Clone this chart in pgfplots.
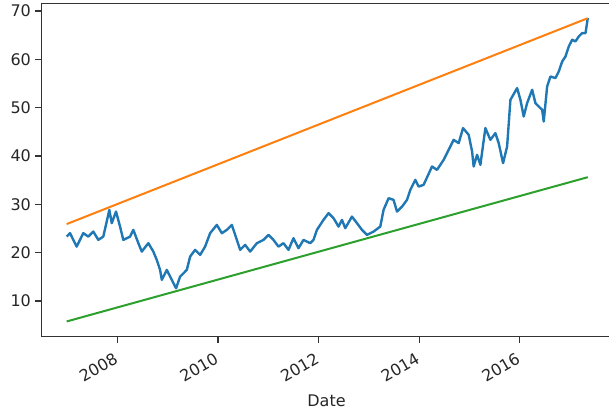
\documentclass[border=0pt]{standalone}
\usepackage{pgfplots}
\pgfplotsset{compat=1.18}
\usepackage{fontspec}
\setmainfont{DejaVu Sans}
\definecolor{mblue}{HTML}{1F77B4}
\definecolor{morange}{HTML}{FF7F0E}
\definecolor{mgreen}{HTML}{2CA02C}
\begin{document}
\begin{tikzpicture}
\path[use as bounding box] (-31.3pt,-56.5pt) rectangle (425.5pt,252.5pt);
\begin{axis}[
  scale only axis,
  width=427.2pt, height=250.05pt,
  xmin=2006.497, xmax=2017.82,
  ymin=2.61, ymax=71.59,
  xtick={2008,2010,2012,2014,2016},
  ytick={10,20,30,40,50,60,70},
  /pgf/number format/1000 sep={},
  /pgf/number format/assume math mode=true,
  tick align=outside,
  xtick pos=bottom, ytick pos=left,
  major tick length=4.9pt,
  tick style={line width=0.9pt, color=black!80},
  axis line style={line width=0.9pt, color=black!80},
  every tick label/.append style={font=\fontsize{12}{14}\selectfont, color=black!85},
  xticklabel style={rotate=30, anchor=north east, inner sep=1pt, xshift=-5pt, yshift=-3pt},
  yticklabel style={inner sep=1pt, xshift=-2pt},
  xlabel={Date},
  xlabel style={font=\fontsize{12}{14}\selectfont, color=black!85, at={(0.5,0)}, anchor=south, yshift=-56pt},
  clip=true,
]
\addplot[color=mblue, line width=1.8pt, line join=round] coordinates {
(2006.993,23.31) (2007.059,24.02) (2007.192,21.24) (2007.323,24.02) (2007.423,23.31)
(2007.522,24.35) (2007.622,22.63) (2007.721,23.31) (2007.789,26.42) (2007.841,28.84)
(2007.889,26.09) (2007.974,28.49) (2008.054,25.38) (2008.119,22.63) (2008.253,23.31)
(2008.318,24.70) (2008.418,21.95) (2008.486,20.21) (2008.617,21.95) (2008.716,20.21)
(2008.784,18.49) (2008.850,16.42) (2008.884,14.35) (2008.983,16.42) (2009.083,14.35)
(2009.168,12.63) (2009.248,15.03) (2009.381,16.42) (2009.447,19.17) (2009.546,20.56)
(2009.646,19.52) (2009.745,21.24) (2009.845,24.02) (2009.978,25.73) (2010.078,24.02)
(2010.177,24.70) (2010.277,25.73) (2010.376,22.63) (2010.442,20.56) (2010.541,21.59)
(2010.641,20.21) (2010.774,21.95) (2010.905,22.63) (2011.005,23.66) (2011.104,22.63)
(2011.204,21.24) (2011.303,21.95) (2011.403,20.56) (2011.502,22.98) (2011.602,20.91)
(2011.701,22.63) (2011.835,21.95) (2011.900,22.63) (2011.968,24.70) (2012.099,26.77)
(2012.199,28.16) (2012.298,27.12) (2012.398,25.38) (2012.466,26.77) (2012.531,25.05)
(2012.665,27.45) (2012.764,26.09) (2012.864,24.70) (2012.963,23.66) (2013.094,24.35)
(2013.228,25.38) (2013.293,28.84) (2013.393,31.26) (2013.492,30.91) (2013.560,28.49)
(2013.660,29.52) (2013.759,30.91) (2013.825,32.98) (2013.924,35.05) (2013.990,33.66)
(2014.089,34.02) (2014.256,37.81) (2014.356,37.12) (2014.487,39.19) (2014.587,41.26)
(2014.686,43.33) (2014.786,42.65) (2014.873,45.76) (2014.985,44.37) (2015.053,40.91)
(2015.084,37.81) (2015.152,40.23) (2015.218,38.16) (2015.317,45.76) (2015.417,43.33)
(2015.516,44.72) (2015.582,42.65) (2015.669,38.51) (2015.749,41.95) (2015.815,51.61)
(2015.948,54.04) (2016.014,51.61) (2016.079,48.16) (2016.147,50.93) (2016.247,53.69)
(2016.312,50.93) (2016.378,50.23) (2016.446,49.54) (2016.477,47.12) (2016.545,54.37)
(2016.611,56.44) (2016.710,56.11) (2016.776,57.47) (2016.844,59.54) (2016.910,60.58)
(2016.975,62.65) (2017.043,64.04) (2017.108,63.69) (2017.174,64.72) (2017.241,65.42)
(2017.308,65.42) (2017.353,68.53)
};
\addplot[color=morange, line width=1.5pt] coordinates {(2006.993,25.9) (2017.353,68.5)};
\addplot[color=mgreen, line width=1.5pt] coordinates {(2006.993,5.75) (2017.353,35.6)};
\end{axis}
\end{tikzpicture}
\end{document}
